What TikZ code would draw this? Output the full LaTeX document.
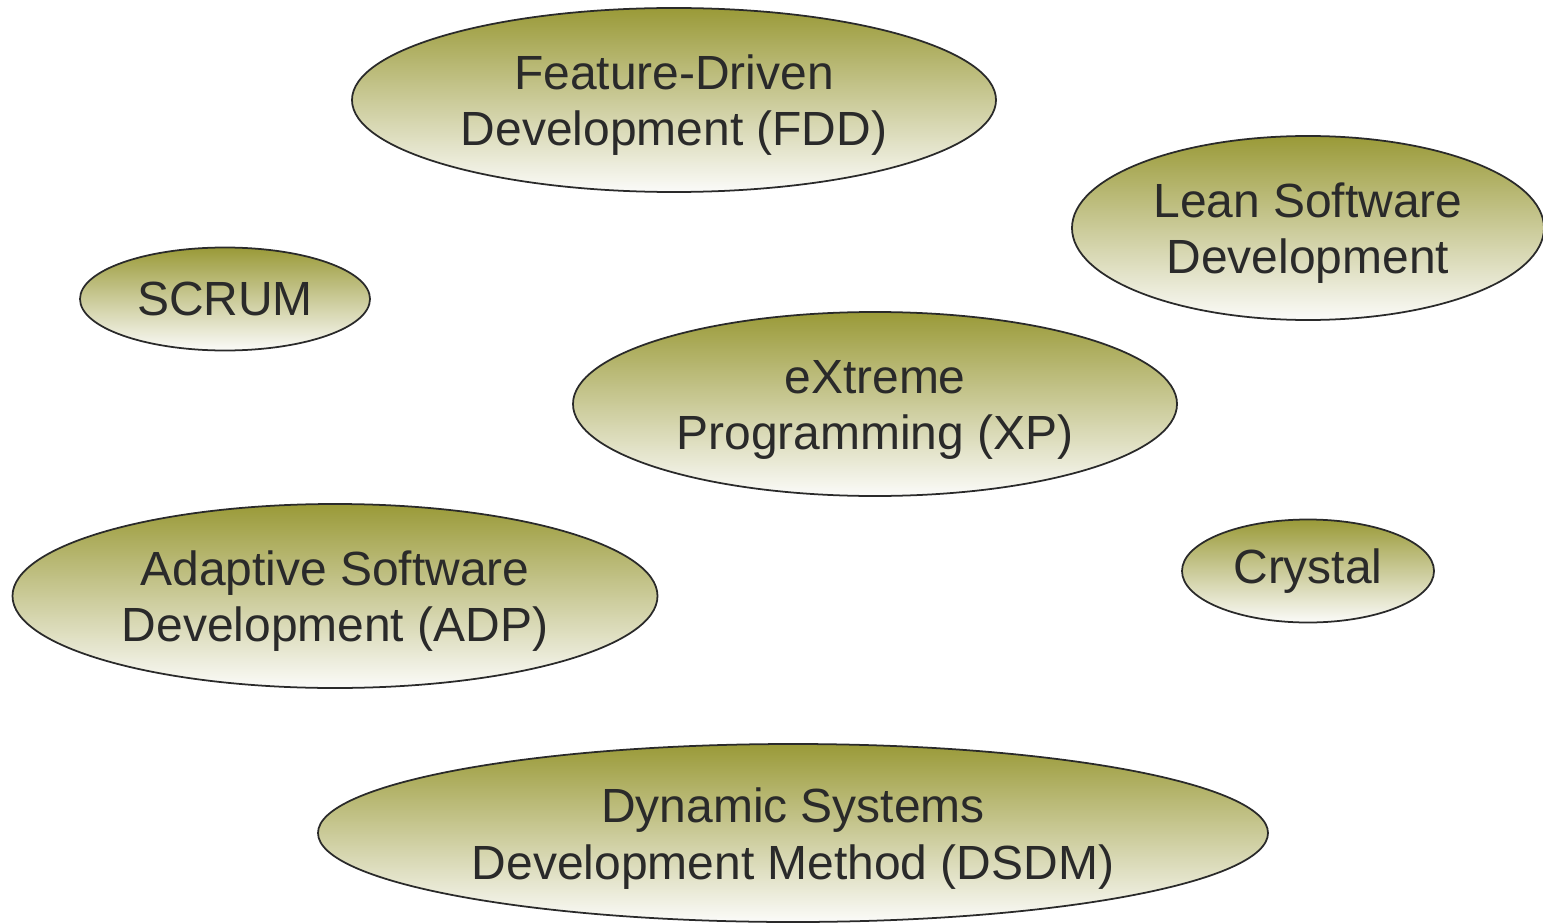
\documentclass[tikz,border=0pt]{standalone}
\usepackage{fontspec}
\setmainfont{Liberation Sans}
\usetikzlibrary{shapes.geometric}
\definecolor{olive}{HTML}{9A9A38}
\definecolor{pale}{HTML}{FBFBF9}
\definecolor{ink}{HTML}{2A2A2A}
\begin{document}
\begin{tikzpicture}[method/.style={ellipse,draw=ink,line width=1pt,top color=olive,bottom color=pale,inner sep=0pt,align=center,text=ink,font=\fontsize{27.3}{32.4}\selectfont}]
\useasboundingbox (0,0) rectangle (30.86,-18.48);
\node [method,minimum width=12.88cm,minimum height=3.68cm] (fdd) at (13.48,-2.0) {\rule{0pt}{0.9cm}Feature-Driven\\Development (FDD)};
\node [method,minimum width=9.44cm,minimum height=3.68cm] (lean) at (26.16,-4.56) {\rule{0pt}{0.9cm}Lean Software\\Development};
\node [method,minimum width=5.8cm,minimum height=2.06cm] (scrum) at (4.5,-5.98) {SCRUM};
\node [method,minimum width=12.08cm,minimum height=3.68cm] (xp) at (17.5,-8.08) {\rule{0pt}{0.9cm}eXtreme\\Programming (XP)};
\node [method,minimum width=12.9cm,minimum height=3.68cm] (adp) at (6.7,-11.92) {\rule{0pt}{0.9cm}Adaptive Software\\Development (ADP)};
\node [method,minimum width=5.04cm,minimum height=2.06cm] (crystal) at (26.16,-11.42) {Crystal};
\node [method,minimum width=19.0cm,minimum height=3.56cm] (dsdm) at (15.86,-16.66) {\rule{0pt}{0.9cm}Dynamic Systems\\Development Method (DSDM)};
\end{tikzpicture}
\end{document}
